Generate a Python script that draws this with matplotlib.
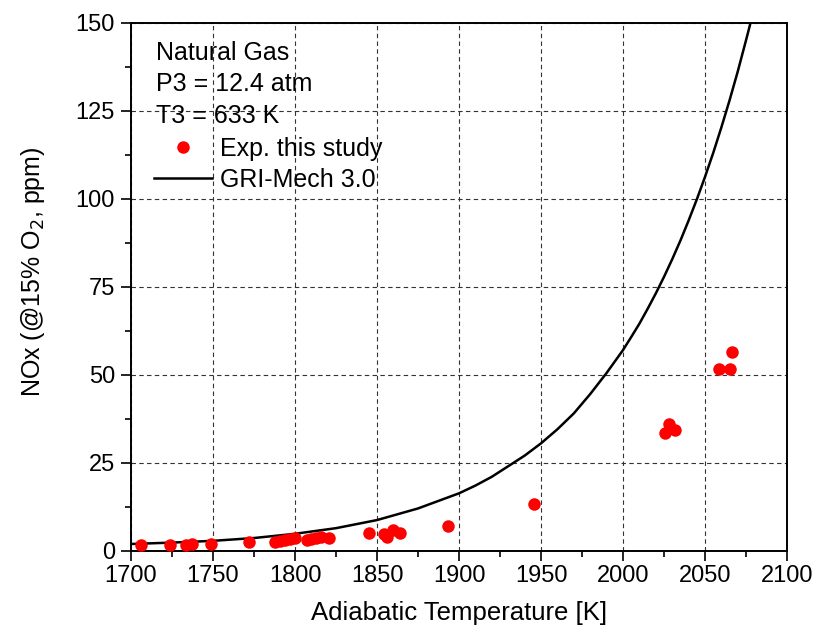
import matplotlib
matplotlib.use("Agg")
import matplotlib.pyplot as plt
from matplotlib.ticker import MultipleLocator

plt.rcParams['font.family'] = ['Liberation Sans', 'DejaVu Sans']

exp_T = [1706, 1724, 1733.5, 1737, 1749, 1772,
         1788, 1791, 1794, 1797, 1800,
         1807, 1810, 1813, 1816, 1821,
         1845, 1854, 1856, 1860, 1864,
         1893, 1946,
         2025.6, 2028.3, 2031.7,
         2058.5, 2065.2, 2066.7]
exp_nox = [1.7, 1.7, 1.7, 1.9, 2.0, 2.4,
           2.6, 2.8, 3.0, 3.3, 3.5,
           3.0, 3.3, 3.7, 3.8, 3.7,
           4.9, 4.7, 4.0, 5.9, 4.9,
           7.1, 13.3,
           33.3, 35.9, 34.3,
           51.5, 51.5, 56.4]

# GRI-Mech 3.0 curve
gri_T = [1700, 1725, 1750, 1775, 1800, 1825, 1850, 1875, 1900, 1910, 1920,
         1930, 1940, 1950, 1960, 1970, 1980, 1990, 2000, 2005, 2010, 2015,
         2020, 2025, 2030, 2035, 2040, 2045, 2050, 2055, 2060, 2065, 2070,
         2075, 2080]
gri_nox = [1.9, 2.3, 2.8, 3.6, 4.8, 6.4, 8.7, 12.0, 16.3, 18.5, 21.0,
           24.0, 27.0, 30.5, 34.5, 39.0, 44.5, 50.5, 57.0, 60.7, 64.5, 68.7,
           73.1, 77.8, 82.8, 88.1, 93.8, 99.8, 106.2, 113.0, 120.3, 128.0, 136.2,
           145.0, 154.0]

info_lines = ["Natural Gas", "P3 = 12.4 atm", "T3 = 633 K"]
x_ticks = [1700, 1750, 1800, 1850, 1900, 1950, 2000, 2050, 2100]
y_ticks = [0, 25, 50, 75, 100, 125, 150]

fig = plt.figure(figsize=(8.21, 6.39), dpi=100)
ax = fig.add_axes([0.1596, 0.1382, 0.7990, 0.8263])

ax.plot(gri_T, gri_nox, color='black', lw=1.8, label='GRI-Mech 3.0', zorder=3)
ax.plot(exp_T, exp_nox, 'o', color='#ff0000', ms=9, mec='none',
        label='Exp. this study', zorder=4)

ax.set_xlim(1700, 2100)
ax.set_ylim(0, 150)
ax.set_xticks(x_ticks)
ax.set_yticks(y_ticks)
ax.xaxis.set_minor_locator(MultipleLocator(25))
ax.yaxis.set_minor_locator(MultipleLocator(12.5))
ax.tick_params(which='major', direction='out', length=7.5, width=1.2,
               labelsize=17, colors='black', top=False, right=False)
ax.tick_params(axis='x', which='major', pad=3)
ax.tick_params(axis='y', which='major', pad=4)
ax.tick_params(which='minor', direction='out', length=4.5, width=1.2,
               top=False, right=False)
for sp in ax.spines.values():
    sp.set_linewidth(1.4)

ax.grid(True, which='major', color='#333333', lw=0.8, ls=(0, (4, 3)))
ax.set_axisbelow(True)

ax.set_xlabel('Adiabatic Temperature [K]', fontsize=18.5, labelpad=10)
ax.text(-0.150, 0.528, 'NOx (@15% O$_2$, ppm)', transform=ax.transAxes,
        rotation=90, ha='center', va='center', fontsize=18)

y0 = 1 - (53 - 22.7) / 528
dy = 31.5 / 528
for i, s in enumerate(info_lines):
    ax.text((156 - 131) / 656, y0 - i * dy, s, transform=ax.transAxes,
            ha='left', va='center', fontsize=18)

handles, labels = ax.get_legend_handles_labels()
leg = ax.legend(handles[::-1], labels[::-1], loc='upper left',
                bbox_to_anchor=((154 - 131) / 656, 1 - (137 - 22.7) / 528),
                frameon=False, fontsize=18, handlelength=2.32,
                handletextpad=0.32, labelspacing=0.27, borderpad=0,
                borderaxespad=0, numpoints=1)

fig.savefig('out.png', dpi=100)
